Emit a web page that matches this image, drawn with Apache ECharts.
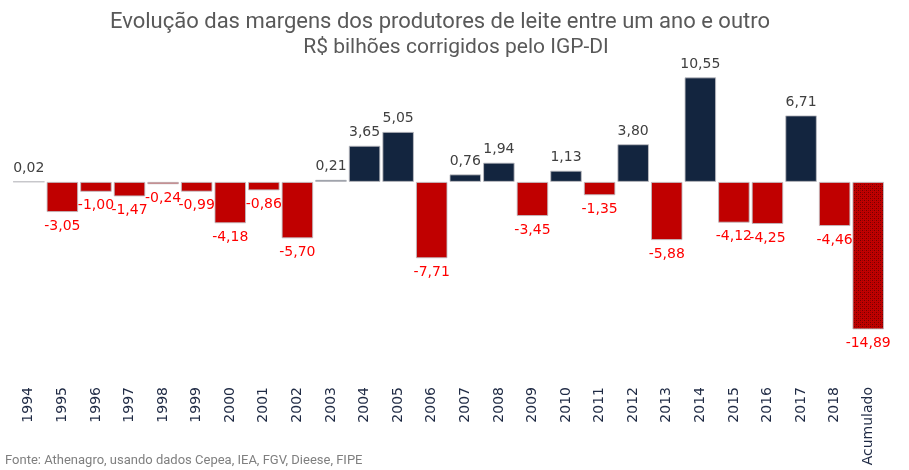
<!DOCTYPE html>
<html><head><meta charset="utf-8">
<script src="https://cdn.jsdelivr.net/npm/echarts@6/dist/echarts.min.js"></script>
<style>html,body{margin:0;padding:0;background:#fff}#c{width:909px;height:470px}</style>
</head><body><div id="c"></div>
<script>
const categories = ['1994','1995','1996','1997','1998','1999','2000','2001','2002','2003','2004','2005','2006','2007','2008','2009','2010','2011','2012','2013','2014','2015','2016','2017','2018','Acumulado'];
const values = [0.02,-3.05,-1.00,-1.47,-0.24,-0.99,-4.18,-0.86,-5.70,0.21,3.65,5.05,-7.71,0.76,1.94,-3.45,1.13,-1.35,3.80,-5.88,10.55,-4.12,-4.25,6.71,-4.46,-14.89];
const titleLines = ['Evolução das margens dos produtores de leite entre um ano e outro','R$ bilhões corrigidos pelo IGP-DI'];
const sourceText = 'Fonte: Athenagro, usando dados Cepea, IEA, FGV, Dieese, FIPE';

const pc = document.createElement('canvas'); pc.width = 4; pc.height = 4;
const g = pc.getContext('2d');
g.fillStyle = '#c00000'; g.fillRect(0,0,4,4);
g.fillStyle = '#700000'; g.fillRect(0,0,1,1); g.fillRect(2,2,1,1);
g.fillStyle = '#a00000'; g.fillRect(2,0,1,1); g.fillRect(0,2,1,1);

const fmt = v => v.toFixed(2).replace('.', ',');
const data = values.map((v,i) => {
  const last = i === values.length - 1;
  const pos = v >= 0;
  return {
    value: v,
    itemStyle: { color: last ? {image: pc, repeat: 'repeat'} : (pos ? '#13253f' : '#c00000') },
    label: { position: pos ? 'top' : 'bottom', color: pos ? '#404040' : '#ff0000', distance: pos ? 6 : 7 }
  };
});

const chart = echarts.init(document.getElementById('c'), null, {renderer: 'canvas'});
chart.setOption({
  animation: false,
  backgroundColor: '#fff',
  grid: { left: 12, right: 24, top: 63, bottom: 90 },
  xAxis: {
    type: 'category', data: categories, position: 'bottom',
    axisLine: { show: false, onZero: false }, axisTick: { show: false },
    axisLabel: { rotate: 90, margin: 7, fontFamily: 'DejaVu Sans', fontSize: 14, color: '#1f2a44', interval: 0 }
  },
  yAxis: { type: 'value', min: -20, max: 12, interval: 4, show: false, splitLine: { show: false } },
  series: [{
    type: 'bar', data: data, barCategoryGap: '6%',
    itemStyle: { borderColor: 'rgba(190,190,195,0.85)', borderWidth: 1 },
    label: { show: true, fontFamily: 'DejaVu Sans', fontSize: 14, formatter: p => fmt(p.value) }
  }],
  graphic: [
    { type: 'text', x: 440, y: 22, style: { text: titleLines[0], textAlign: 'center', textVerticalAlign: 'middle', fontFamily: 'Roboto', fontSize: 22, fill: '#595959' } },
    { type: 'text', x: 456, y: 48, style: { text: titleLines[1], textAlign: 'center', textVerticalAlign: 'middle', fontFamily: 'Roboto', fontSize: 21, fill: '#595959' } },
    { type: 'text', x: 5, y: 461, style: { text: sourceText, textVerticalAlign: 'middle', fontFamily: 'Roboto', fontSize: 13, fill: '#7f7f7f' } }
  ]
});
</script></body></html>
